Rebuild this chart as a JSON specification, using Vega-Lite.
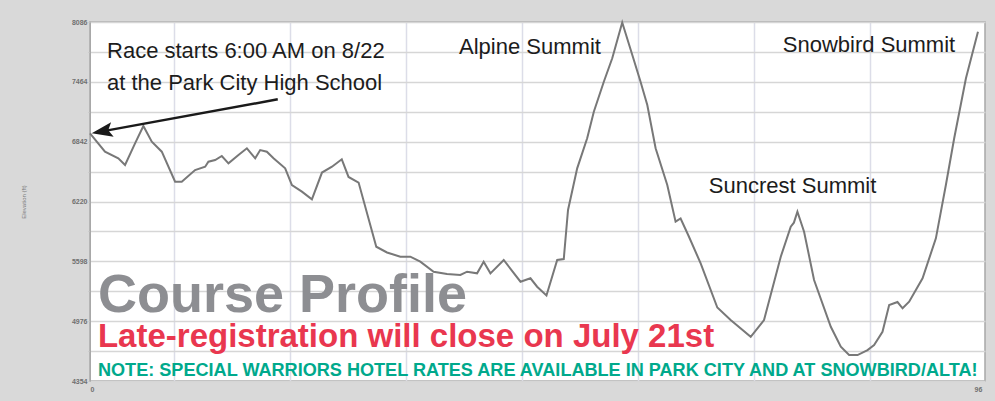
{
  "$schema": "https://vega.github.io/schema/vega-lite/v6.json",
  "width": 895,
  "height": 359,
  "autosize": {"type": "none"},
  "padding": {"left": 90, "top": 22, "right": 10, "bottom": 20},
  "background": "#d9d9d9",
  "config": {
    "view": {"fill": "white", "stroke": "#a8a8a8", "strokeWidth": 1.5},
    "font": "Liberation Sans"
  },
  "datasets": {
    "profile": [
      {"mile": 0, "elev": 6929}, {"mile": 1.62, "elev": 6738}, {"mile": 3.06, "elev": 6669},
      {"mile": 3.79, "elev": 6599}, {"mile": 4.87, "elev": 6825}, {"mile": 5.77, "elev": 7005},
      {"mile": 6.68, "elev": 6842}, {"mile": 7.76, "elev": 6738}, {"mile": 9.2, "elev": 6426},
      {"mile": 9.92, "elev": 6426}, {"mile": 11.36, "elev": 6547}, {"mile": 12.45, "elev": 6582},
      {"mile": 12.8, "elev": 6634}, {"mile": 13.53, "elev": 6651}, {"mile": 14.25, "elev": 6693},
      {"mile": 14.97, "elev": 6617}, {"mile": 16.05, "elev": 6703}, {"mile": 16.96, "elev": 6773},
      {"mile": 17.86, "elev": 6669}, {"mile": 18.4, "elev": 6755}, {"mile": 19.12, "elev": 6738},
      {"mile": 19.84, "elev": 6669}, {"mile": 21.1, "elev": 6565}, {"mile": 21.83, "elev": 6391},
      {"mile": 22.91, "elev": 6322}, {"mile": 23.99, "elev": 6243}, {"mile": 25.08, "elev": 6521},
      {"mile": 26.16, "elev": 6582}, {"mile": 27.22, "elev": 6659}, {"mile": 27.95, "elev": 6475},
      {"mile": 29.04, "elev": 6417}, {"mile": 30.95, "elev": 5750}, {"mile": 32.11, "elev": 5690},
      {"mile": 33.55, "elev": 5646}, {"mile": 34.63, "elev": 5646}, {"mile": 35.71, "elev": 5594},
      {"mile": 37.15, "elev": 5490}, {"mile": 38.6, "elev": 5466}, {"mile": 40.04, "elev": 5456},
      {"mile": 40.77, "elev": 5490}, {"mile": 41.85, "elev": 5473}, {"mile": 42.56, "elev": 5594},
      {"mile": 43.29, "elev": 5473}, {"mile": 44.73, "elev": 5612}, {"mile": 46.54, "elev": 5386},
      {"mile": 47.62, "elev": 5422}, {"mile": 48.34, "elev": 5334}, {"mile": 49.35, "elev": 5243},
      {"mile": 50.51, "elev": 5612}, {"mile": 51.22, "elev": 5622}, {"mile": 51.68, "elev": 6132},
      {"mile": 52.67, "elev": 6565}, {"mile": 53.75, "elev": 6877}, {"mile": 54.47, "elev": 7153},
      {"mile": 55.55, "elev": 7465}, {"mile": 56.46, "elev": 7709}, {"mile": 57.54, "elev": 8080},
      {"mile": 58.63, "elev": 7743}, {"mile": 59.52, "elev": 7465}, {"mile": 60.25, "elev": 7223},
      {"mile": 61.15, "elev": 6773}, {"mile": 62.41, "elev": 6391}, {"mile": 63.31, "elev": 6010},
      {"mile": 63.85, "elev": 6043}, {"mile": 64.72, "elev": 5861}, {"mile": 66.02, "elev": 5577},
      {"mile": 67.82, "elev": 5118}, {"mile": 69.26, "elev": 4988}, {"mile": 71.43, "elev": 4814},
      {"mile": 72.87, "elev": 4988}, {"mile": 74.68, "elev": 5646}, {"mile": 75.76, "elev": 5958},
      {"mile": 76.1, "elev": 6000}, {"mile": 76.48, "elev": 6114}, {"mile": 77.2, "elev": 5906},
      {"mile": 78.28, "elev": 5404}, {"mile": 80.09, "elev": 4918}, {"mile": 81.17, "elev": 4710},
      {"mile": 82.07, "elev": 4624}, {"mile": 82.98, "elev": 4624}, {"mile": 84.06, "elev": 4676},
      {"mile": 84.77, "elev": 4728}, {"mile": 85.68, "elev": 4866}, {"mile": 86.4, "elev": 5144},
      {"mile": 87.3, "elev": 5175}, {"mile": 87.85, "elev": 5110}, {"mile": 88.56, "elev": 5178},
      {"mile": 90.01, "elev": 5422}, {"mile": 91.45, "elev": 5837}, {"mile": 92.53, "elev": 6391},
      {"mile": 93.43, "elev": 6877}, {"mile": 94.7, "elev": 7501}, {"mile": 96, "elev": 7985}
    ],
    "arrow": [{"mile": 20.3, "elev": 7282, "mile2": 1.3, "elev2": 6949}],
    "head": [{"mile": 1.3, "elev": 6949}],
    "notes": [
      {"mile": 1.84, "elev": 7712, "label": "Race starts 6:00 AM on 8/22"},
      {"mile": 1.84, "elev": 7379, "label": "at the Park City High School"},
      {"mile": 39.9, "elev": 7753, "label": "Alpine Summit"},
      {"mile": 74.9, "elev": 7774, "label": "Snowbird Summit"},
      {"mile": 66.9, "elev": 6308, "label": "Suncrest Summit"}
    ],
    "title1": [{"mile": 0.86, "elev": 5075, "label": "Course Profile"}],
    "title2": [{"mile": 0.86, "elev": 4712, "label": "Late-registration will close on July 21st"}],
    "title3": [{"mile": 0.86, "elev": 4406, "label": "NOTE:  SPECIAL WARRIORS HOTEL RATES ARE AVAILABLE IN PARK CITY AND AT SNOWBIRD/ALTA!"}]
  },
  "encoding": {
    "x": {
      "field": "mile", "type": "quantitative",
      "scale": {"domain": [0, 96.76], "nice": false, "zero": false},
      "axis": {
        "values": [0, 9.08, 21.6, 34.16, 46.7, 59.24, 71.78, 84.3, 96],
        "labelExpr": "datum.value == 0 || datum.value == 96 ? datum.label : ''",
        "grid": true, "gridWidth": 1.5,
        "gridColor": {"condition": {"test": "datum.value == 0 || datum.value == 96", "value": "transparent"}, "value": "#dcdde8"},
        "domain": false, "ticks": false, "title": null,
        "labelFontSize": 7, "labelColor": "#707070", "labelFontWeight": "bold", "labelPadding": 4
      }
    },
    "y": {
      "field": "elev", "type": "quantitative",
      "scale": {"domain": [4354, 8086], "nice": false, "zero": false},
      "axis": {
        "values": [4354, 4665, 4976, 5287, 5598, 5909, 6220, 6531, 6842, 7153, 7464, 7775, 8086],
        "format": "d",
        "labelExpr": "(datum.value - 4354) % 622 == 0 ? datum.label : ''",
        "grid": true, "gridColor": "#d6d6d6", "gridWidth": 1.5,
        "domain": true, "domainColor": "#a8a8a8",
        "ticks": true, "tickSize": 2, "tickColor": "#c0c0c0",
        "labelFontSize": 7, "labelColor": "#707070", "labelFontWeight": "bold", "labelPadding": 1,
        "title": "Elevation (ft)", "titleFontSize": 6, "titleColor": "#7a7a7a", "titleFontWeight": "normal",
        "titlePadding": 45
      }
    }
  },
  "layer": [
    {
      "data": {"name": "profile"},
      "mark": {"type": "line", "color": "#787878", "strokeWidth": 2}
    },
    {
      "data": {"name": "arrow"},
      "mark": {"type": "rule", "color": "#1a1a1a", "strokeWidth": 2.5},
      "encoding": {
        "x2": {"field": "mile2"},
        "y2": {"field": "elev2"}
      }
    },
    {
      "data": {"name": "head"},
      "mark": {"type": "point", "shape": "M -1 0 L 1 -0.7 L 0.6 0 L 1 0.7 Z", "size": 441, "angle": -10,
               "filled": true, "color": "#1a1a1a", "opacity": 1}
    },
    {
      "data": {"name": "notes"},
      "mark": {"type": "text", "align": "left", "baseline": "alphabetic", "font": "Liberation Sans",
               "fontSize": 22, "color": "#1c1c1c"},
      "encoding": {"text": {"field": "label"}}
    },
    {
      "data": {"name": "title1"},
      "mark": {"type": "text", "align": "left", "baseline": "alphabetic", "font": "Liberation Sans",
               "fontWeight": "bold", "fontSize": 54, "color": "#8d8e92"},
      "encoding": {"text": {"field": "label"}}
    },
    {
      "data": {"name": "title2"},
      "mark": {"type": "text", "align": "left", "baseline": "alphabetic", "font": "Liberation Sans",
               "fontWeight": "bold", "fontSize": 33, "color": "#e9374f"},
      "encoding": {"text": {"field": "label"}}
    },
    {
      "data": {"name": "title3"},
      "mark": {"type": "text", "align": "left", "baseline": "alphabetic", "font": "Liberation Sans",
               "fontWeight": "bold", "fontSize": 18.1, "color": "#00a98c"},
      "encoding": {"text": {"field": "label"}}
    }
  ]
}
